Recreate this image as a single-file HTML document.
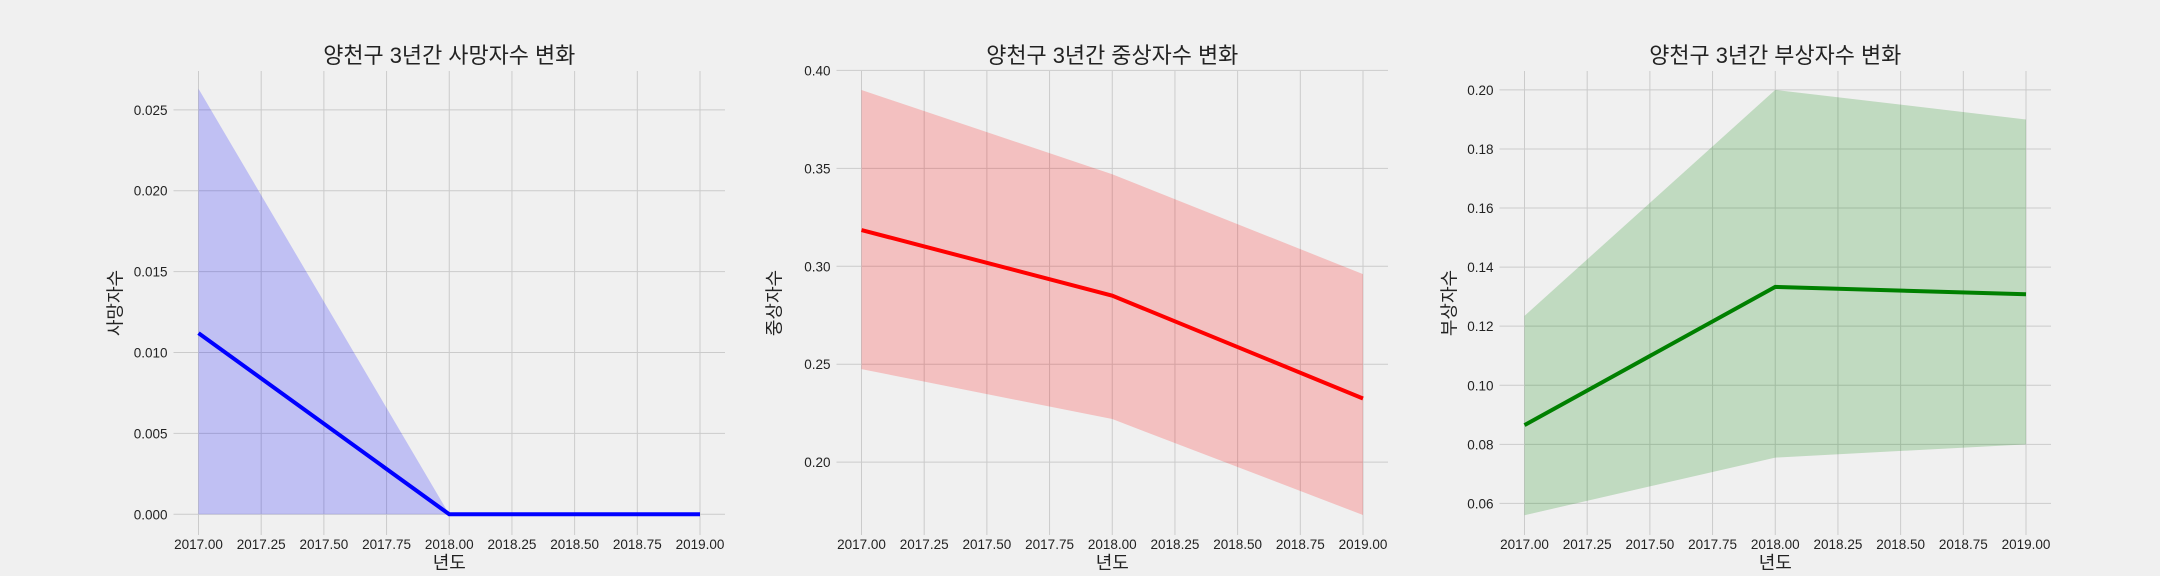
<!DOCTYPE html>
<html><head><meta charset="utf-8">
<style>
html,body{margin:0;padding:0;background:#f0f0f0;}
svg{display:block;}
text{font-family:"Liberation Sans","Noto Sans CJK KR",sans-serif;fill:#222;}
</style></head>
<body>
<svg id="chart" width="2160" height="576" viewBox="0 0 2160 576" xmlns="http://www.w3.org/2000/svg">
<rect width="2160" height="576" fill="#f0f0f0"/>
</svg>
<script>
const years = [2017, 2018, 2019];
const deathMean = [0.0112, 0.0, 0.0];
const deathUpper = [0.0263, 0.0, 0.0];
const deathLower = [0.0, 0.0, 0.0];
const seriousMean = [0.3185, 0.285, 0.2325];
const seriousUpper = [0.39, 0.347, 0.296];
const seriousLower = [0.2475, 0.222, 0.173];
const injuryMean = [0.0865, 0.1333, 0.1308];
const injuryUpper = [0.1235, 0.2, 0.19];
const injuryLower = [0.056, 0.0755, 0.080];
const xTicks = [2017.0, 2017.25, 2017.5, 2017.75, 2018.0, 2018.25, 2018.5, 2018.75, 2019.0];
const deathTicks = [0.000, 0.005, 0.010, 0.015, 0.020, 0.025];
const seriousTicks = [0.20, 0.25, 0.30, 0.35, 0.40];
const injuryTicks = [0.06, 0.08, 0.10, 0.12, 0.14, 0.16, 0.18, 0.20];
const titles = ["양천구 3년간 사망자수 변화", "양천구 3년간 중상자수 변화", "양천구 3년간 부상자수 변화"];
const yLabels = ["사망자수", "중상자수", "부상자수"];

const NS = "http://www.w3.org/2000/svg";
const svg = document.getElementById('chart');
function mk(tag, attrs, parent) {
  const e = document.createElementNS(NS, tag);
  for (const k in attrs) e.setAttribute(k, attrs[k]);
  (parent || svg).appendChild(e);
  return e;
}

const panels = [
  {mean: deathMean, up: deathUpper, lo: deathLower, ticks: deathTicks, dec: 3, dom: [-0.00128, 0.0274], color: "#0000ff", key: "death"},
  {mean: seriousMean, up: seriousUpper, lo: seriousLower, ticks: seriousTicks, dec: 2, dom: [0.1628, 0.3997], color: "#ff0000", key: "serious"},
  {mean: injuryMean, up: injuryUpper, lo: injuryLower, ticks: injuryTicks, dec: 2, dom: [0.0493, 0.2064], color: "#008000", key: "injury"}
];

const TOP = 71, BOTTOM = 535;
panels.forEach((p, i) => {
  const x0 = 198.5 + 663 * i, x1 = 700 + 663 * i;
  const left = x0 - 25, right = x1 + 25;
  const xs = v => x0 + (v - 2017) / 2 * (x1 - x0);
  const ys = v => BOTTOM - (v - p.dom[0]) / (p.dom[1] - p.dom[0]) * (BOTTOM - TOP);
  const g = mk('g', {});
  
  

  // grid
  xTicks.forEach(t => {
    const l = mk('line', {x1: xs(t), x2: xs(t), y1: TOP, y2: BOTTOM, stroke: '#cbcbcb', 'stroke-width': 1}, g);
    
    
    const tx = mk('text', {x: xs(t), y: 549, 'text-anchor': 'middle', 'font-size': 13.5}, g);
    tx.textContent = t.toFixed(2);
    
    
  });
  p.ticks.forEach(t => {
    const l = mk('line', {x1: left, x2: right, y1: ys(t), y2: ys(t), stroke: '#cbcbcb', 'stroke-width': 1}, g);
    
    
    const tx = mk('text', {x: left - 6, y: ys(t) + 5, 'text-anchor': 'end', 'font-size': 13.5}, g);
    tx.textContent = t.toFixed(p.dec);
    
    
  });

  // band
  let d = '';
  years.forEach((y, k) => { d += (k ? 'L' : 'M') + xs(y) + ',' + ys(p.up[k]); });
  for (let k = years.length - 1; k >= 0; k--) d += 'L' + xs(years[k]) + ',' + ys(p.lo[k]);
  d += 'Z';
  const band = mk('path', {d: d, fill: p.color, 'fill-opacity': 0.2}, g);
  
  

  const pts = years.map((y, k) => xs(y) + ',' + ys(p.mean[k])).join(' ');
  const line = mk('polyline', {points: pts, fill: 'none', stroke: p.color, 'stroke-width': 4}, g);
  
  

  const title = mk('text', {x: (left + right) / 2, y: 63, 'text-anchor': 'middle', 'font-size': 22, textLength: 252, lengthAdjust: 'spacingAndGlyphs'}, g);
  title.textContent = titles[i];
  
  

  const xl = mk('text', {x: (left + right) / 2, y: 569, 'text-anchor': 'middle', 'font-size': 18}, g);
  xl.textContent = '년도';
  
  

  const lx = left - 52 + (i === 1 ? -4 : 0) + (i === 2 ? 8 : 0);
  const cy = (TOP + BOTTOM) / 2;
  const yl = mk('text', {x: lx, y: cy, 'text-anchor': 'middle', 'font-size': 18, transform: 'rotate(-90 ' + lx + ' ' + cy + ')'}, g);
  yl.textContent = yLabels[i];
  
  
});
</script>
</body></html>
